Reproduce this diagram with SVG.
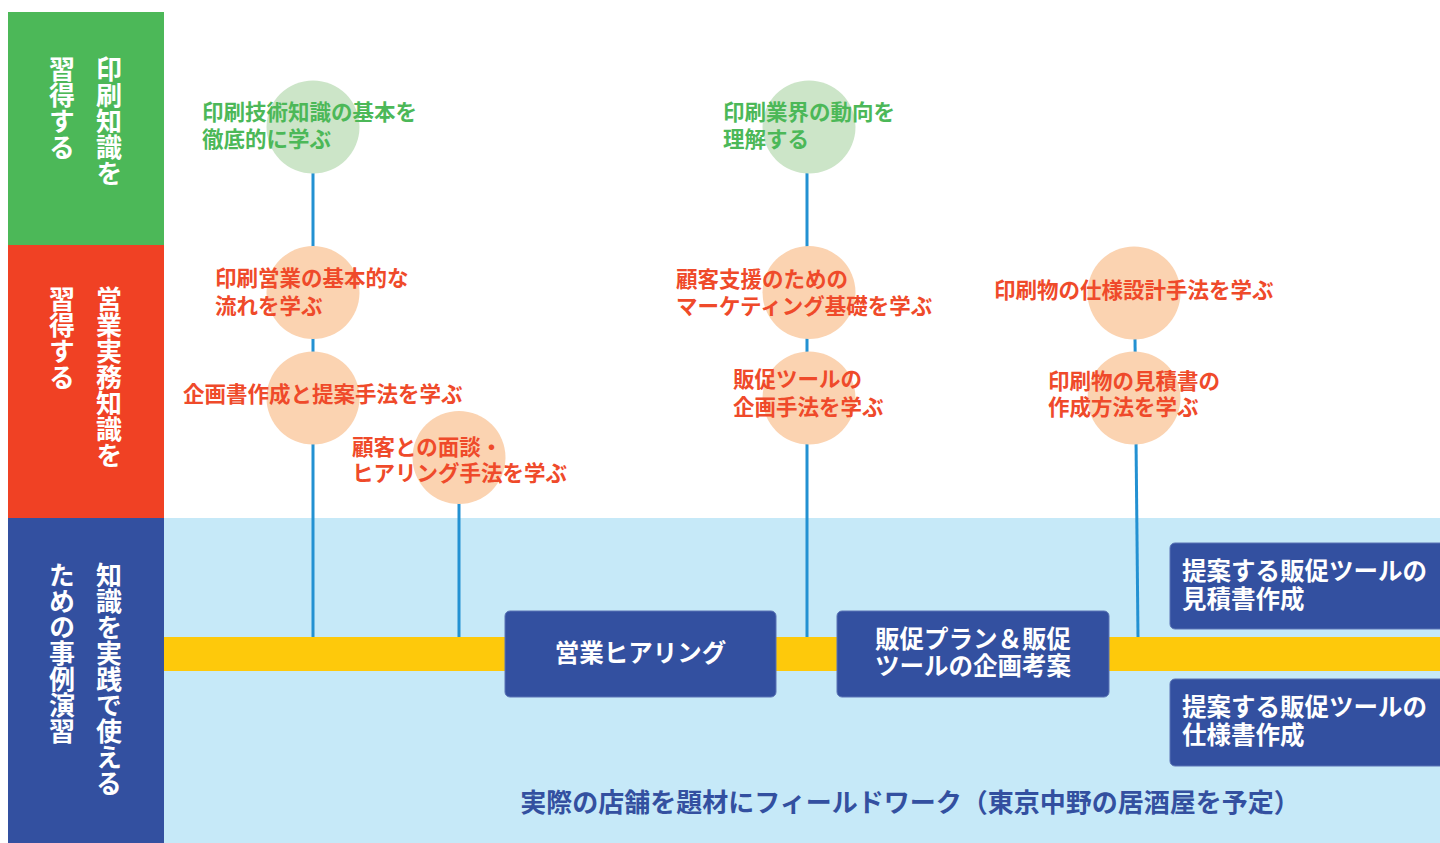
<svg xmlns="http://www.w3.org/2000/svg" width="1440" height="843" viewBox="0 0 1440 843">
<style>
text{font-family:"Noto Sans CJK JP","Noto Sans",sans-serif;font-weight:700}
.vt{writing-mode:vertical-rl;font-size:26px;fill:#ffffff}
.gl{font-size:21.5px;fill:#4cb858}
.rl{font-size:21.5px;fill:#ef4a2a}
.bx{font-size:24.5px;fill:#ffffff}
.cg{fill:#cce5c8}
.cr{fill:#fbd3b1}
.box{fill:#3350a0;stroke:#5a73b5;stroke-width:1}
.ln{stroke:#2391d2;stroke-width:3;fill:none}
</style>
<rect x="0" y="0" width="1440" height="843" fill="#ffffff"/>
<g id="background">
<rect x="164" y="518" width="1276" height="325" fill="#c6e9f8"/>
<rect x="164" y="637" width="1276" height="34" fill="#fec90b"/>
</g>
<g id="band-green">
<rect x="8" y="12" width="156" height="233" fill="#4cb858"/>
<text class="vt" x="109" y="56">印刷知識を</text>
<text class="vt" x="62" y="56">習得する</text>
</g>
<g id="band-red">
<rect x="8" y="245" width="156" height="273" fill="#f04124"/>
<text class="vt" x="109" y="286">営業実務知識を</text>
<text class="vt" x="62" y="286">習得する</text>
</g>
<g id="band-blue">
<rect x="8" y="518" width="156" height="325" fill="#3350a0"/>
<text class="vt" x="109" y="562">知識を実践で使える</text>
<text class="vt" x="62" y="562">ための事例演習</text>
</g>
<g id="connectors">
<line class="ln" x1="313" y1="172" x2="313" y2="637"/>
<line class="ln" x1="459" y1="503" x2="459" y2="637"/>
<line class="ln" x1="807" y1="172" x2="807" y2="637"/>
<line class="ln" x1="1135" y1="338" x2="1138" y2="637"/>
</g>
<g id="n1">
<circle class="cg" cx="313" cy="127" r="46.5"/>
<text class="gl" x="202" y="120">印刷技術知識の基本を</text>
<text class="gl" x="202" y="147">徹底的に学ぶ</text>
</g>
<g id="n2">
<circle class="cr" cx="313" cy="292.5" r="46.5"/>
<text class="rl" x="215" y="286">印刷営業の基本的な</text>
<text class="rl" x="215" y="314">流れを学ぶ</text>
</g>
<g id="n3">
<circle class="cr" cx="313" cy="398" r="46.5"/>
<text class="rl" x="183" y="402">企画書作成と提案手法を学ぶ</text>
</g>
<g id="n4">
<circle class="cr" cx="459" cy="457.5" r="46.5"/>
<text class="rl" x="352" y="455">顧客との面談・</text>
<text class="rl" x="352" y="481">ヒアリング手法を学ぶ</text>
</g>
<g id="n5">
<circle class="cg" cx="809" cy="127" r="46.5"/>
<text class="gl" x="723" y="120">印刷業界の動向を</text>
<text class="gl" x="723" y="147">理解する</text>
</g>
<g id="n6">
<circle class="cr" cx="809" cy="292.5" r="46.5"/>
<text class="rl" x="676" y="287">顧客支援のための</text>
<text class="rl" x="676" y="314">マーケティング基礎を学ぶ</text>
</g>
<g id="n7">
<circle class="cr" cx="809" cy="398" r="46.5"/>
<text class="rl" x="733" y="387">販促ツールの</text>
<text class="rl" x="733" y="415">企画手法を学ぶ</text>
</g>
<g id="n8">
<circle class="cr" cx="1134" cy="293" r="46.5"/>
<text class="rl" x="994" y="298">印刷物の仕様設計手法を学ぶ</text>
</g>
<g id="n9">
<circle class="cr" cx="1134" cy="398" r="46.5"/>
<text class="rl" x="1048" y="389">印刷物の見積書の</text>
<text class="rl" x="1048" y="415">作成方法を学ぶ</text>
</g>
<g id="b1">
<rect class="box" x="505" y="611" width="271" height="86" rx="5"/>
<text class="bx" x="640.5" y="662" text-anchor="middle">営業ヒアリング</text>
</g>
<g id="b2">
<rect class="box" x="837" y="611" width="272" height="86" rx="5"/>
<text class="bx" x="973" y="648" text-anchor="middle">販促プラン＆販促</text>
<text class="bx" x="973" y="675" text-anchor="middle">ツールの企画考案</text>
</g>
<g id="b3">
<rect class="box" x="1170" y="543" width="276" height="86" rx="5"/>
<text class="bx" x="1182" y="580">提案する販促ツールの</text>
<text class="bx" x="1182" y="608">見積書作成</text>
</g>
<g id="b4">
<rect class="box" x="1170" y="679" width="276" height="87" rx="5"/>
<text class="bx" x="1182" y="716">提案する販促ツールの</text>
<text class="bx" x="1182" y="744">仕様書作成</text>
</g>
<g id="caption">
<text x="910" y="812" text-anchor="middle" font-size="26" fill="#3350a0">実際の店舗を題材にフィールドワーク（東京中野の居酒屋を予定）</text>
</g>
</svg>
